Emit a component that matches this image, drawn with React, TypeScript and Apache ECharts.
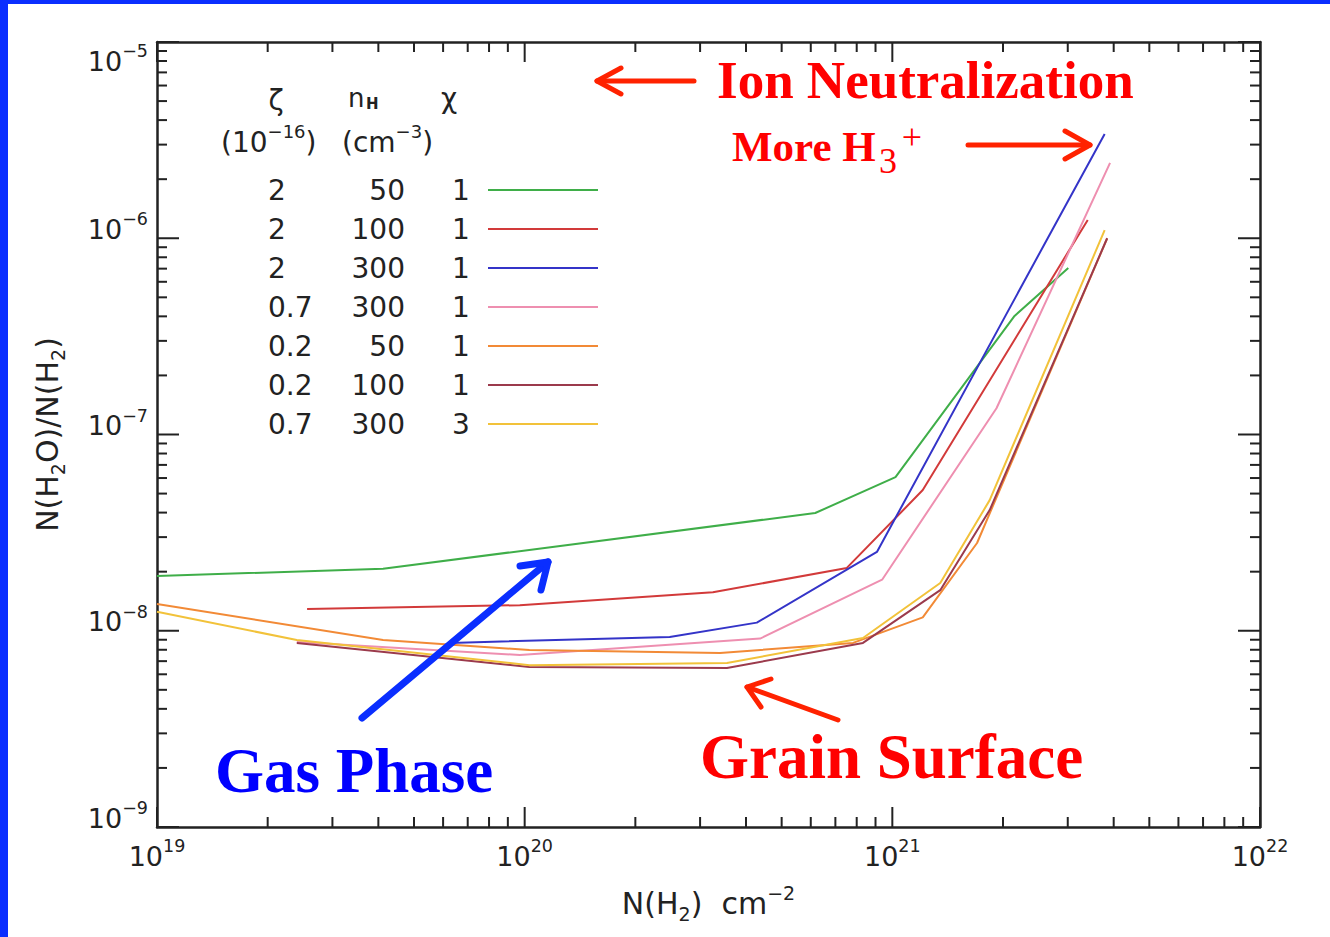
import React, { useEffect, useRef } from "react";
import * as echarts from "echarts";

// ---------- axes ----------
const X_MIN = 1e19;
const X_MAX = 1e22;
const Y_MIN = 1e-9;
const Y_MAX = 1e-5;
const X_DECADES = [19, 20, 21, 22];
const Y_DECADES = [-9, -8, -7, -6, -5];
const MINOR_MULT = [2, 3, 4, 5, 6, 7, 8, 9];

// ---------- legend table ----------
const zetaCol = ["2", "2", "2", "0.7", "0.2", "0.2", "0.7"];
const nHCol = ["50", "100", "300", "300", "50", "100", "300"];
const chiCol = ["1", "1", "1", "1", "1", "1", "3"];
const lineColors = ["#3fae49", "#d23a3a", "#3434c8", "#ee8fb0", "#f28a36", "#9b3a4c", "#f2c23a"];

// ---------- series: [N(H2) cm^-2, N(H2O)/N(H2)] ----------
const s2_50_1 = [[1e19, 1.9e-8], [4.12e19, 2.07e-8], [6.17e20, 3.98e-8], [1.02e21, 6.07e-8], [2.15e21, 4.02e-7], [3.01e21, 7.05e-7]];
const s2_100_1 = [[2.56e19, 1.29e-8], [9.7e19, 1.35e-8], [3.25e20, 1.57e-8], [7.52e20, 2.09e-8], [1.21e21, 5.21e-8], [3.4e21, 1.24e-6]];
const s2_300_1 = [[6.27e19, 8.67e-9], [2.48e20, 9.3e-9], [4.28e20, 1.1e-8], [9.08e20, 2.52e-8], [2.63e21, 9.8e-7], [3.78e21, 3.4e-6]];
const s07_300_1 = [[2.4e19, 8.77e-9], [9.7e19, 7.52e-9], [4.37e20, 9.12e-9], [9.38e20, 1.82e-8], [1.92e21, 1.36e-7], [3.91e21, 2.42e-6]];
const s02_50_1 = [[1e19, 1.37e-8], [4.12e19, 8.97e-9], [1.03e20, 7.98e-9], [3.4e20, 7.7e-9], [7.82e20, 8.67e-9], [1.21e21, 1.17e-8], [1.7e21, 2.8e-8], [3.84e21, 1.0e-6]];
const s02_100_1 = [[2.4e19, 8.67e-9], [1.03e20, 6.53e-9], [3.55e20, 6.46e-9], [8.32e20, 8.67e-9], [1.35e21, 1.61e-8], [1.84e21, 4.12e-8], [3.84e21, 1.0e-6]];
const s07_300_3 = [[1e19, 1.25e-8], [2.4e19, 8.97e-9], [1.03e20, 6.68e-9], [3.55e20, 6.85e-9], [8.32e20, 9.19e-9], [1.35e21, 1.75e-8], [1.84e21, 4.63e-8], [3.78e21, 1.1e-6]];
const allSeries = [s2_50_1, s2_100_1, s2_300_1, s07_300_1, s02_50_1, s02_100_1, s07_300_3];

const FONT = '"DejaVu Sans", "Noto Sans", sans-serif';
const SERIF = '"Liberation Serif", "Times New Roman", serif';
const INK = "#222";
const RED = "#ff0000";
const ARROW_RED = "#ff2200";
const BLUE = "#0a2eff";

export default function App() {
  const ref = useRef<HTMLDivElement>(null);

  useEffect(() => {
    const chart = echarts.init(ref.current!, null, { renderer: "svg" });

    // tick marks (major + minor) on all four sides, inward
    const tickData: number[][] = [];
    X_DECADES.forEach((e) => {
      const v = Math.pow(10, e);
      tickData.push([v, Y_MIN, 0, 20], [v, Y_MAX, 1, 20]);
      if (e < 22) MINOR_MULT.forEach((m) => {
        const mv = m * v;
        tickData.push([mv, Y_MIN, 0, 10], [mv, Y_MAX, 1, 10]);
      });
    });
    Y_DECADES.forEach((e) => {
      const v = Math.pow(10, e);
      tickData.push([X_MIN, v, 2, 22], [X_MAX, v, 3, 22]);
      if (e < -5) MINOR_MULT.forEach((m) => {
        const mv = m * v;
        tickData.push([X_MIN, mv, 2, 10], [X_MAX, mv, 3, 10]);
      });
    });

    const labelRich = {
      b: { fontFamily: FONT, fontSize: 27, lineHeight: 38, color: INK },
      s: { fontFamily: FONT, fontSize: 17.5, lineHeight: 17, verticalAlign: "top", color: INK },
    };
    const nameRich = {
      b: { fontFamily: FONT, fontSize: 30, lineHeight: 40, color: INK },
      u: { fontFamily: FONT, fontSize: 19, lineHeight: 18, verticalAlign: "bottom", color: INK },
      s: { fontFamily: FONT, fontSize: 19, lineHeight: 18, verticalAlign: "top", color: INK },
    };

    const axisLine = { show: true, onZero: false, lineStyle: { color: INK, width: 2.5 } };

    const graphics: any[] = [];
    // blue frame
    graphics.push({ type: "rect", shape: { x: 0, y: 0, width: 1330, height: 4 }, style: { fill: BLUE }, z: 100 });
    graphics.push({ type: "rect", shape: { x: 0, y: 0, width: 8, height: 937 }, style: { fill: BLUE }, z: 100 });

    const txt = (x: number, y: number, text: string, opts: any = {}) => ({
      type: "text",
      x,
      y,
      z: 50,
      style: {
        text,
        fontFamily: FONT,
        fontSize: 27,
        fill: INK,
        align: "left",
        verticalAlign: "middle",
        ...opts,
      },
    });

    // legend header
    graphics.push(txt(276, 100, "ζ", { align: "center", fontSize: 28 }));
    graphics.push(txt(348, 98, "n", { fontSize: 26 }));
    graphics.push(txt(366, 104, "H", { fontSize: 15, fontWeight: "bold" }));
    graphics.push(txt(449, 98, "χ", { align: "center", fontSize: 28 }));
    const hdrRich = {
      b: { fontFamily: FONT, fontSize: 28, lineHeight: 40, fill: INK },
      s: { fontFamily: FONT, fontSize: 18, lineHeight: 18, verticalAlign: "top", fill: INK },
    };
    graphics.push(txt(221, 142, "{b|(10}{s|−16}{b|)}", { rich: hdrRich }));
    graphics.push(txt(342, 142, "{b|(cm}{s|−3}{b|)}", { rich: hdrRich }));

    // legend rows
    zetaCol.forEach((t, i) => {
      const y = 190 + i * 39;
      graphics.push(txt(268, y, t, { fontSize: 28 }));
      graphics.push(txt(405, y, nHCol[i], { align: "right", fontSize: 28 }));
      graphics.push(txt(461, y, chiCol[i], { align: "center", fontSize: 28 }));
      graphics.push({
        type: "line",
        z: 50,
        shape: { x1: 488, y1: y, x2: 598, y2: y },
        style: { stroke: lineColors[i], lineWidth: 2 },
      });
    });

    // annotations
    const bold = (x: number, y: number, text: string, size: number, fill: string) =>
      txt(x, y, text, { fontFamily: SERIF, fontWeight: "bold", fontSize: size, fill });
    graphics.push(bold(717, 80, "Ion Neutralization", 53, RED));
    graphics.push(bold(732, 146, "More H", 43, RED));
    graphics.push(txt(879, 161, "3", { fontFamily: SERIF, fontSize: 36, fill: RED }));
    graphics.push(txt(912, 137, "+", { fontFamily: SERIF, fontSize: 36, fill: RED, align: "center" }));
    graphics.push(bold(215, 771, "Gas Phase", 63, "#0000ff"));
    graphics.push(bold(700, 757, "Grain Surface", 63, RED));

    const arrow = (x1: number, y1: number, x2: number, y2: number, h1: number[], h2: number[], color: string, w: number) => {
      graphics.push({
        type: "line",
        z: 60,
        shape: { x1, y1, x2, y2 },
        style: { stroke: color, lineWidth: w, lineCap: "round" },
      });
      graphics.push({
        type: "polyline",
        z: 60,
        shape: { points: [h1, [x2, y2], h2] },
        style: { stroke: color, lineWidth: w, lineCap: "round", lineJoin: "round", fill: null },
      });
    };
    arrow(694, 81, 597, 81, [621, 68], [621, 94], ARROW_RED, 5);
    arrow(968, 145, 1090, 145, [1065, 131], [1065, 159], ARROW_RED, 5);
    arrow(838, 720, 747, 687, [771, 679], [761, 707], ARROW_RED, 5);
    arrow(362, 718, 548, 562, [520, 566], [541, 590], BLUE, 7);

    const option: any = {
      animation: false,
      backgroundColor: "#ffffff",
      grid: { left: 157, top: 42, width: 1103, height: 785, containLabel: false },
      xAxis: [
        {
          type: "log",
          logBase: 10,
          min: X_MIN,
          max: X_MAX,
          position: "bottom",
          axisLine,
          axisTick: { show: false },
          minorTick: { show: false },
          splitLine: { show: false },
          axisLabel: {
            margin: 10,
            formatter: (v: number) => `{b|10}{s|${Math.round(Math.log10(v))}}`,
            rich: labelRich,
          },
          name: "{b|N(H}{u|2}{b|)  cm}{s|−2}",
          nameLocation: "middle",
          nameGap: 56,
          nameTextStyle: { rich: nameRich },
        },
        {
          type: "log",
          logBase: 10,
          min: X_MIN,
          max: X_MAX,
          position: "top",
          axisLine,
          axisTick: { show: false },
          axisLabel: { show: false },
          splitLine: { show: false },
        },
      ],
      yAxis: [
        {
          type: "log",
          logBase: 10,
          min: Y_MIN,
          max: Y_MAX,
          position: "left",
          axisLine,
          axisTick: { show: false },
          minorTick: { show: false },
          splitLine: { show: false },
          axisLabel: {
            margin: 9,
            padding: [0, 0, 18, 0],
            formatter: (v: number) => `{b|10}{s|−${Math.abs(Math.round(Math.log10(v)))}}`,
            rich: labelRich,
            verticalAlignMaxLabel: "top",
          },
          name: "{b|N(H}{u|2}{b|O)/N(H}{u|2}{b|)}",
          nameLocation: "middle",
          nameRotate: 90,
          nameGap: 90,
          nameTextStyle: { rich: nameRich },
        },
        {
          type: "log",
          logBase: 10,
          min: Y_MIN,
          max: Y_MAX,
          position: "right",
          axisLine,
          axisTick: { show: false },
          axisLabel: { show: false },
          splitLine: { show: false },
        },
      ],
      series: [
        ...allSeries.map((d, i) => ({
          type: "line",
          name: `${zetaCol[i]} ${nHCol[i]} ${chiCol[i]}`,
          xAxisIndex: 0,
          yAxisIndex: 0,
          data: d,
          symbol: "none",
          showSymbol: false,
          lineStyle: { color: lineColors[i], width: 2 },
          itemStyle: { color: lineColors[i] },
          z: 3,
        })),
        {
          type: "custom",
          xAxisIndex: 0,
          yAxisIndex: 0,
          dimensions: ["x", "y", "k", "len"],
          encode: { x: 0, y: 1 },
          data: tickData,
          clip: false,
          silent: true,
          z: 5,
          renderItem: (_p: any, api: any) => {
            const p = api.coord([api.value(0), api.value(1)]);
            const k = api.value(2);
            const len = api.value(3);
            let x2 = p[0];
            let y2 = p[1];
            if (k === 0) y2 -= len;
            else if (k === 1) y2 += len;
            else if (k === 2) x2 += len;
            else x2 -= len;
            return {
              type: "line",
              shape: { x1: p[0], y1: p[1], x2, y2 },
              style: { stroke: INK, lineWidth: 2 },
            };
          },
        },
      ],
      graphic: { elements: graphics },
    };

    chart.setOption(option);
    return () => chart.dispose();
  }, []);

  return (
    <div
      ref={ref}
      style={{ position: "absolute", left: 0, top: 0, width: 1330, height: 937, background: "#fff" }}
    />
  );
}
